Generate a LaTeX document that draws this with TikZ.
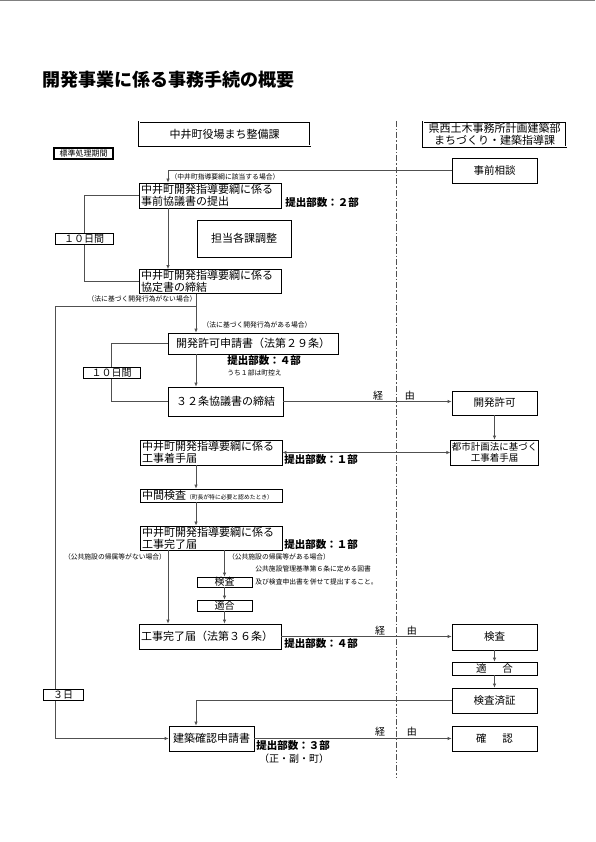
\documentclass[tikz,border=0pt]{standalone}
\usepackage{fontspec}
\setmainfont{Noto Sans CJK JP}
\usetikzlibrary{arrows.meta}
\definecolor{linec}{RGB}{80,80,80}

\begin{document}
\begin{tikzpicture}[x=1pt,y=-1pt,>={Latex[length=4pt,width=3.5pt]},line width=0.7pt,
  box/.style={draw,fill=white,inner sep=1pt,align=center,font=\fontsize{11}{12}\selectfont},
  lbox/.style={box,align=left,inner xsep=2pt,text width=138pt},
  head/.style={box,double,double distance=1pt},
  days/.style={box,font=\fontsize{10}{11}\selectfont,minimum height=11,inner ysep=0pt},
  note/.style={font=\fontsize{6.8}{7}\selectfont,inner sep=0pt},
  num/.style={font=\bfseries\fontsize{10.5}{12}\selectfont,anchor=west,inner sep=0pt},
  via/.style={font=\fontsize{10}{11}\selectfont,inner sep=0pt},
  line/.style={draw=linec},
  link/.style={line,->}]
\useasboundingbox (0,0) rectangle (595,842);
\draw[gray,line width=1pt] (0,0.5) -- (595,0.5);
\node[font=\bfseries\fontsize{18}{20}\selectfont,anchor=west,inner sep=0pt] (title) at (42,80) {開発事業に係る事務手続の概要};

% column heads and the border between them
\node[head,minimum width=171,minimum height=24] (hdrL) at (224.5,134) {中井町役場まち整備課};
\node[head,minimum width=143,minimum height=25] (hdrR) at (494.5,134.5) {県西土木事務所計画建築部\\まちづくり・建築指導課};
\draw[linec,dash pattern=on 6pt off 2pt on 1.5pt off 2pt] (396,121) -- (396,777);
\node[box,line width=1.3pt,font=\fontsize{8}{9}\selectfont,minimum width=59,minimum height=11,inner ysep=0pt] (std) at (83.5,153.5) {標準処理期間};

% boxes
\node[box,minimum width=85,minimum height=25,font=\fontsize{10.5}{12}\selectfont] (soudan) at (494.5,170.5) {事前相談};
\node[lbox,minimum height=25] (A) at (210,195.5) {中井町開発指導要綱に係る\\事前協議書の提出};
\node[box,minimum width=94,minimum height=37] (chousei) at (244,238.5) {担当各課調整};
\node[lbox,minimum height=24] (B) at (210,281.5) {中井町開発指導要綱に係る\\協定書の締結};
\node[box,minimum width=170,minimum height=21] (C) at (253,343.5) {開発許可申請書（法第２９条）};
\node[box,minimum width=115,minimum height=29] (D) at (225.5,401.5) {３２条協議書の締結};
\node[box,minimum width=85,minimum height=24,font=\fontsize{10.5}{12}\selectfont] (kyoka) at (494.5,403) {開発許可};
\node[box,minimum width=85,minimum height=25,font=\fontsize{9.5}{11}\selectfont] (toshi) at (494.5,452.5) {都市計画法に基づく\\工事着手届};
\node[lbox,minimum height=25] (E) at (211,452.5) {中井町開発指導要綱に係る\\工事着手届};
\node[lbox,minimum height=13,inner ysep=0.5pt] (F) at (211,495.5) {中間検査{\fontsize{5.8}{6}\selectfont（町長が特に必要と認めたとき）}};
\node[lbox,minimum height=24] (G) at (211,538) {中井町開発指導要綱に係る\\工事完了届};
\node[box,minimum width=55,minimum height=10,inner ysep=0pt,font=\fontsize{10}{10}\selectfont] (chk) at (224.5,582) {検査};
\node[box,minimum width=55,minimum height=11,inner ysep=0pt,font=\fontsize{10}{10}\selectfont] (ok) at (224.5,605.5) {適合};
\node[lbox,minimum height=25] (H) at (210,636.5) {工事完了届（法第３６条）};
\node[box,minimum width=85,minimum height=26,font=\fontsize{10.5}{12}\selectfont] (chkR) at (494.5,637) {検査};
\node[box,minimum width=85,minimum height=13,inner ysep=0pt,font=\fontsize{10.5}{12}\selectfont] (okR) at (494.5,668.5) {適\hspace{1.5em}合};
\node[box,minimum width=85,minimum height=25,font=\fontsize{10.5}{12}\selectfont] (cert) at (494.5,700.5) {検査済証};
\node[box,minimum width=85,minimum height=25] (app) at (211.5,738.5) {建築確認申請書};
\node[box,minimum width=85,minimum height=25,font=\fontsize{10.5}{12}\selectfont] (conf) at (494.5,738.5) {確\hspace{1.5em}認};

% columns of the connectors
\coordinate (colL) at (168,0);
\coordinate (colM) at (196,0);
\coordinate (colR) at (224.5,0);
\coordinate (brk1) at (84,0);
\coordinate (brk2) at (111.5,0);
\coordinate (lft) at (55,0);
\coordinate (fork) at (196,306);

\draw[link] (soudan.west) -| (A.north -| colL);
\draw[link] (A.south -| colL) -- (B.north -| colL);
\draw[line] (A.west) -| (brk1 |- B.west) -- (B.west);
\draw[link] (B.south -| colM) -- (C.north -| colM);
\draw[link] (fork) -| (lft |- app.west) -- (app.west);
\draw[line] (C.west) -| (brk2 |- D.west) -- (D.west);
\draw[link] (C.south -| colM) -- (D.north -| colM);
\draw[link] (D.east) -- (D.east -| kyoka.west);
\draw[link] (kyoka) -- (toshi);
\draw[link,<->] (E.east) -- (toshi.west);
\draw[link] (E.south -| colM) -- (F.north -| colM);
\draw[link] (F.south -| colM) -- (G.north -| colM);
\draw[link] (G.south -| colL) -- (H.north -| colL);
\draw[link] (G.south -| colR) -- (chk.north);
\draw[link] (chk) -- (ok);
\draw[link] (ok) -- (H.north -| colR);
\draw[link] (H.east) -- (H.east -| chkR.west);
\draw[link] (chkR) -- (okR);
\draw[link] (okR) -- (cert);
\draw[link] (cert.west) -| (app.north -| colM);
\draw[link] (app) -- (conf);

% periods
\node[days,minimum width=58] (d1) at (84,239) {１０日間};
\node[days,minimum width=57] (d2) at (111.5,373) {１０日間};
\node[days,minimum width=40] (d3) at (63,695) {３日};

% labels
\node[note] (n1) at (225,177) {（中井町指導要綱に該当する場合）};
\node[num] (p1) at (285,203) {提出部数：２部};
\node[note] (n2) at (142,299) {（法に基づく開発行為がない場合）};
\node[note] (n3) at (257,325) {（法に基づく開発行為がある場合）};
\node[num] (p2) at (227,361) {提出部数：４部};
\node[note,anchor=west] (n4) at (227,373) {うち１部は町控え};
\node[via] (v1) at (394,396) {経\hspace{2.2em}由};
\node[num] (p3) at (284,460) {提出部数：１部};
\node[num] (p4) at (284,545) {提出部数：１部};
\node[note] (n5) at (115,557) {（公共施設の帰属等がない場合）};
\node[note] (n6) at (279,557) {（公共施設の帰属等がある場合）};
\node[note,anchor=west] (n7) at (255,569) {公共施設管理基準第６条に定める図書};
\node[note,anchor=west] (n8) at (255,582) {及び検査申出書を併せて提出すること。};
\node[via] (v2) at (396,631) {経\hspace{2.2em}由};
\node[num] (p5) at (284,644) {提出部数：４部};
\node[via] (v3) at (396,732) {経\hspace{2.2em}由};
\node[num] (p6) at (256,746) {提出部数：３部};
\node[via] (p7) at (294,759) {（正・副・町）};
\end{tikzpicture}
\end{document}
